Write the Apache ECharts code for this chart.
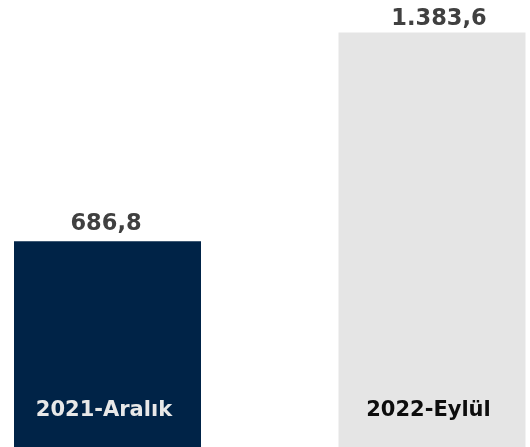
<!DOCTYPE html>
<html>
<head>
<meta charset="utf-8">
<script src="https://cdn.jsdelivr.net/npm/echarts@6/dist/echarts.min.js"></script>
<style>
  html, body { margin: 0; padding: 0; background: #ffffff; }
  #main { width: 530px; height: 447px; }
</style>
</head>
<body>
<div id="main"></div>
<script>
// 数据
var categories = ['2021-Aralık', '2022-Eylül'];
var values = [686.8, 1383.6];
var valueLabels = ['686,8', '1.383,6'];
var barColors = ['#002347', '#e5e5e5'];
var catLabelColors = ['#e8e8e8', '#0d0d0d'];

var myChart = echarts.init(document.getElementById('main'));

var option = {
    animation: false,
    grid: { left: 107.5, right: 98, top: 32.5, bottom: 0, containLabel: false },
    xAxis: {
        type: 'category',
        data: categories,
        boundaryGap: false,
        axisLine: { show: false },
        axisTick: { show: false },
        axisLabel: {
            inside: true,
            margin: 36,
            verticalAlign: 'middle',
            padding: [0, 7, 0, 0],
            fontFamily: 'DejaVu Sans',
            fontWeight: 'bold',
            fontSize: 21,
            color: function (value, index) {
                return catLabelColors[index];
            }
        },
        z: 10
    },
    yAxis: {
        type: 'value',
        min: 0,
        max: 1383.6,
        show: false
    },
    series: [{
        type: 'bar',
        barWidth: 187,
        clip: false,
        data: values.map(function (v, i) {
            return {
                value: v,
                itemStyle: { color: barColors[i] },
                label: { distance: i === 0 ? 6 : 2, offset: [i === 0 ? -1.5 : 7, 0] }
            };
        }),
        label: {
            show: true,
            position: 'top',
            fontFamily: 'DejaVu Sans',
            fontWeight: 'bold',
            fontSize: 22.5,
            color: '#404040',
            formatter: function (p) { return valueLabels[p.dataIndex]; }
        }
    }]
};

myChart.setOption(option);
</script>
</body>
</html>
